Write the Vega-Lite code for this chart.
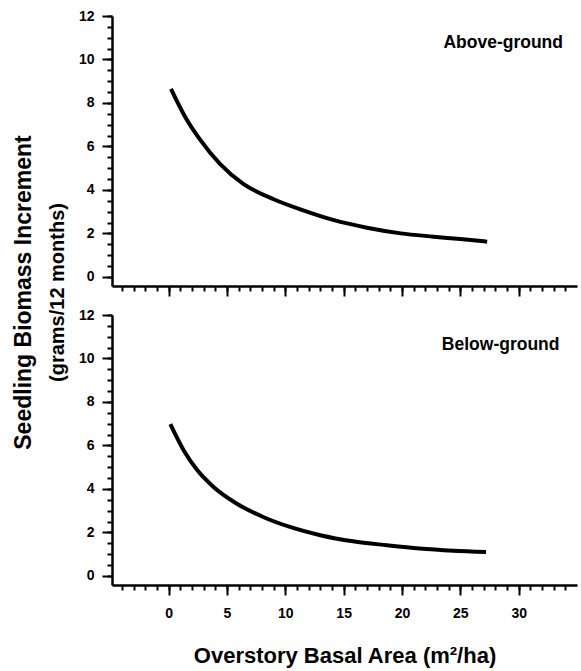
{
  "$schema": "https://vega.github.io/schema/vega-lite/v6.json",
  "padding": {"left": 13, "top": 9, "right": 5, "bottom": 5},
  "background": "white",
  "title": {
    "text": "Seedling Biomass Increment",
    "subtitle": "(grams/12 months)",
    "orient": "left",
    "anchor": "middle",
    "dx": 45,
    "font": "Liberation Sans",
    "fontSize": 23,
    "fontWeight": "bold",
    "color": "black",
    "subtitleFont": "Liberation Sans",
    "subtitleFontSize": 20,
    "subtitleFontWeight": "bold",
    "subtitleColor": "black",
    "subtitlePadding": 12,
    "offset": 10
  },
  "config": {
    "view": {"stroke": null},
    "axis": {
      "grid": false,
      "domainColor": "black",
      "domainWidth": 2.5,
      "tickColor": "black",
      "tickWidth": 2,
      "labelColor": "black",
      "labelFont": "Liberation Sans",
      "labelFontWeight": "bold",
      "labelFontSize": 14,
      "titleColor": "black",
      "titleFont": "Liberation Sans",
      "titleFontWeight": "bold",
      "titleFontSize": 22
    }
  },
  "datasets": {
    "above": [
      {"x": 0.2, "y": 8.65},
      {"x": 1.4, "y": 7.38},
      {"x": 2.7, "y": 6.31},
      {"x": 4.4, "y": 5.2},
      {"x": 6.4, "y": 4.28},
      {"x": 9.0, "y": 3.57},
      {"x": 11.6, "y": 3.05},
      {"x": 14.1, "y": 2.62},
      {"x": 17.0, "y": 2.26},
      {"x": 19.9, "y": 2.0},
      {"x": 22.7, "y": 1.85},
      {"x": 25.0, "y": 1.74},
      {"x": 27.3, "y": 1.62}
    ],
    "below": [
      {"x": 0.15, "y": 6.98},
      {"x": 1.3, "y": 5.77},
      {"x": 2.4, "y": 4.9},
      {"x": 3.85, "y": 4.09},
      {"x": 5.85, "y": 3.32},
      {"x": 8.1, "y": 2.71},
      {"x": 10.4, "y": 2.25},
      {"x": 13.0, "y": 1.87},
      {"x": 15.8, "y": 1.59},
      {"x": 18.7, "y": 1.41},
      {"x": 21.5, "y": 1.26},
      {"x": 24.4, "y": 1.16},
      {"x": 27.2, "y": 1.1}
    ],
    "labelAbove": [{"x": 33.8, "y": 10.78, "label": "Above-ground"}],
    "labelBelow": [{"x": 33.5, "y": 10.6, "label": "Below-ground"}]
  },
  "spacing": 11,
  "vconcat": [
    {
      "width": 465,
      "height": 270,
      "resolve": {"axis": {"x": "independent", "y": "independent"}},
      "layer": [
        {
          "data": {"name": "above"},
          "mark": {"type": "line", "color": "black", "strokeWidth": 4, "interpolate": "monotone"},
          "encoding": {
            "x": {"field": "x", "type": "quantitative",
                  "scale": {"domain": [-4.85, 35], "nice": false, "zero": false},
                  "axis": {"orient": "bottom", "values": [-4,-3,-2,-1,0,1,2,3,4,5,6,7,8,9,10,11,12,13,14,15,16,17,18,19,20,21,22,23,24,25,26,27,28,29,30,31,32,33,34], "labels": false, "tickSize": 5, "title": null}},
            "y": {"field": "y", "type": "quantitative",
                  "scale": {"domain": [-0.42, 12], "nice": false, "zero": false},
                  "axis": {"orient": "left", "values": [0,0.5,1,1.5,2,2.5,3,3.5,4,4.5,5,5.5,6,6.5,7,7.5,8,8.5,9,9.5,10,10.5,11,11.5,12], "labels": false, "tickSize": 5, "title": null}}
          }
        },
        {
          "data": {"name": "labelAbove"},
          "mark": {"type": "text", "align": "right", "baseline": "middle", "font": "Liberation Sans", "fontWeight": "bold", "fontSize": 17.5, "color": "black"},
          "encoding": {
            "x": {"field": "x", "type": "quantitative",
                  "axis": {"orient": "bottom", "values": [0,5,10,15,20,25,30], "labels": false, "tickSize": 10, "domain": false, "title": null}},
            "y": {"field": "y", "type": "quantitative",
                  "axis": {"orient": "left", "values": [0,2,4,6,8,10,12], "tickSize": 10, "labelPadding": 8, "domain": false, "title": null}},
            "text": {"field": "label"}
          }
        }
      ]
    },
    {
      "width": 465,
      "height": 270,
      "resolve": {"axis": {"x": "independent", "y": "independent"}},
      "layer": [
        {
          "data": {"name": "below"},
          "mark": {"type": "line", "color": "black", "strokeWidth": 4, "interpolate": "monotone"},
          "encoding": {
            "x": {"field": "x", "type": "quantitative",
                  "scale": {"domain": [-4.85, 35], "nice": false, "zero": false},
                  "axis": {"orient": "bottom", "values": [-4,-3,-2,-1,0,1,2,3,4,5,6,7,8,9,10,11,12,13,14,15,16,17,18,19,20,21,22,23,24,25,26,27,28,29,30,31,32,33,34], "labels": false, "tickSize": 5, "title": null}},
            "y": {"field": "y", "type": "quantitative",
                  "scale": {"domain": [-0.42, 12], "nice": false, "zero": false},
                  "axis": {"orient": "left", "values": [0,0.5,1,1.5,2,2.5,3,3.5,4,4.5,5,5.5,6,6.5,7,7.5,8,8.5,9,9.5,10,10.5,11,11.5,12], "labels": false, "tickSize": 5, "title": null}}
          }
        },
        {
          "data": {"name": "labelBelow"},
          "mark": {"type": "text", "align": "right", "baseline": "middle", "font": "Liberation Sans", "fontWeight": "bold", "fontSize": 17.5, "color": "black"},
          "encoding": {
            "x": {"field": "x", "type": "quantitative",
                  "axis": {"orient": "bottom", "values": [0,5,10,15,20,25,30], "tickSize": 10, "labelPadding": 11, "domain": false, "title": "Overstory Basal Area (m²/ha)", "titlePadding": 25}},
            "y": {"field": "y", "type": "quantitative",
                  "axis": {"orient": "left", "values": [0,2,4,6,8,10,12], "tickSize": 10, "labelPadding": 8, "domain": false, "title": null}},
            "text": {"field": "label"}
          }
        }
      ]
    }
  ]
}
